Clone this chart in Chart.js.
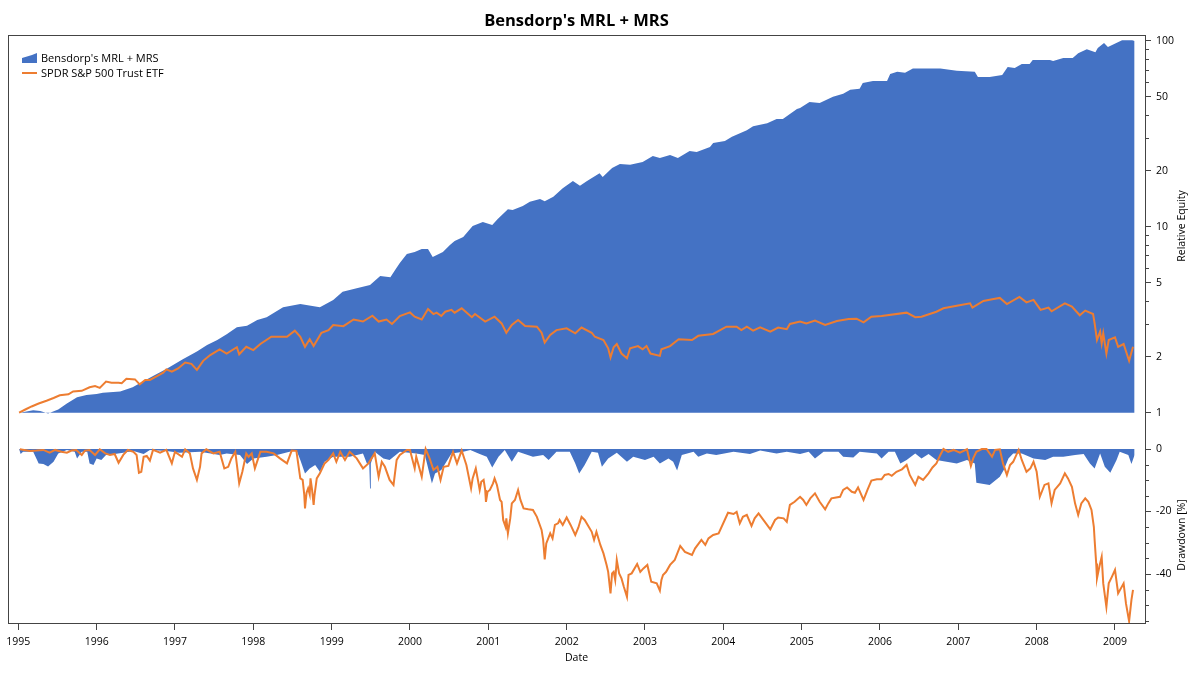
<!DOCTYPE html>
<html>
<head>
<meta charset="utf-8">
<title>Bensdorp's MRL + MRS</title>
<script src="https://cdn.jsdelivr.net/npm/chart.js@4"></script>
<style>
  html, body { margin: 0; padding: 0; background: #fff; }
  canvas { display: block; }
</style>
</head>
<body>
<canvas id="myChart" width="1200" height="675"></canvas>
<script>
// time values are years since startYear
var startYear = 1995;
var yearTicks = [1995,1996,1997,1998,1999,2000,2001,2002,2003,2004,2005,2006,2007,2008,2009];
var equityTicks = [1,2,5,10,20,50,100];
var equityMinorTicks = [3,4,6,7,8,9,30,40,60,70,80,90];
var drawdownTicks = [0,-20,-40];
var drawdownMinorTicks = [-5,-10,-15,-25,-30,-35,-45,-50,-55];

var strategyEquityT = [
  0.02,0.19,0.28,0.38,0.51,0.62,0.75,0.87,1.00,1.08,
  1.30,1.46,1.55,1.72,1.90,2.10,2.28,2.41,2.54,2.66,
  2.79,2.92,3.05,3.17,3.38,3.60,3.85,4.02,4.14,4.32,
  4.49,4.62,4.75,4.81,4.87,4.96,5.06,5.15,5.23,5.29,
  5.42,5.51,5.57,5.68,5.80,5.93,6.05,6.12,6.25,6.31,
  6.44,6.53,6.66,6.72,6.83,6.95,7.08,7.17,7.26,7.42,
  7.46,7.58,7.68,7.81,7.97,8.10,8.19,8.32,8.42,8.57,
  8.66,8.83,8.87,9.02,9.11,9.30,9.38,9.56,9.68,9.76,
  9.94,9.98,10.10,10.23,10.40,10.53,10.62,10.74,10.78,10.91,
  11.09,11.13,11.22,11.32,11.42,11.64,11.77,11.98,12.21,12.25,
  12.40,12.56,12.63,12.72,12.81,12.91,12.95,13.17,13.21,13.34,
  13.46,13.53,13.64,13.75,13.78,13.86,13.91,14.09,14.22,14.25
];
var strategyEquity = [
  1.00,1.03,1.02,0.99,1.04,1.12,1.21,1.245,1.26,1.28,
  1.30,1.37,1.44,1.575,1.73,1.94,2.13,2.31,2.46,2.64,
  2.88,2.93,3.15,3.26,3.69,3.84,3.69,4.04,4.47,4.66,
  4.86,5.43,5.34,5.85,6.38,7.13,7.31,7.59,7.59,6.87,
  7.31,7.97,8.37,8.81,10.1,10.6,10.2,11.0,12.4,12.3,
  12.9,13.6,14.1,13.7,14.5,16.1,17.6,16.6,17.6,19.4,
  18.5,20.7,21.7,21.5,22.3,24.0,23.4,24.3,23.4,25.5,
  25.2,26.8,28.2,28.9,30.4,33.0,34.7,36.0,37.9,37.9,
  42.9,43.4,46.8,46.2,49.9,51.8,54.4,55.1,59.3,60.8,
  60.8,66.3,68.0,67.2,70.8,70.8,70.8,68.9,68.0,63.8,
  63.8,65.3,72.2,71.3,74.9,74.9,78.7,78.7,77.7,80.7,
  80.7,85.7,90.0,86.8,91.3,97.2,92.4,100.6,100.6,99.5
];

var spyEquityT = [
  0.01,0.09,0.17,0.26,0.36,0.45,0.53,0.64,0.70,0.81,
  0.91,0.98,1.04,1.12,1.19,1.28,1.32,1.38,1.49,1.55,
  1.62,1.68,1.77,1.85,1.89,1.96,2.04,2.13,2.21,2.28,
  2.36,2.45,2.57,2.66,2.79,2.82,2.91,3.00,3.09,3.23,
  3.43,3.53,3.60,3.66,3.72,3.77,3.87,3.96,4.02,4.15,
  4.28,4.40,4.52,4.60,4.70,4.77,4.87,5.00,5.06,5.15,
  5.23,5.30,5.34,5.40,5.45,5.53,5.57,5.66,5.79,5.83,
  5.96,6.08,6.17,6.23,6.30,6.38,6.47,6.62,6.68,6.72,
  6.79,6.87,7.00,7.11,7.19,7.32,7.36,7.47,7.53,7.56,
  7.60,7.64,7.70,7.77,7.81,7.91,7.97,8.02,8.07,8.19,
  8.21,8.32,8.43,8.60,8.68,8.87,9.04,9.17,9.23,9.30,
  9.38,9.47,9.60,9.70,9.81,9.85,9.98,10.06,10.17,10.30,
  10.45,10.60,10.70,10.79,10.89,11.02,11.34,11.45,11.53,11.72,
  11.81,11.98,12.15,12.18,12.32,12.45,12.53,12.62,12.78,12.87,
  12.96,13.05,13.15,13.19,13.36,13.45,13.55,13.62,13.72,13.74,
  13.77,13.81,13.83,13.85,13.89,13.92,14.00,14.04,14.11,14.18,
  14.23
];
var spyEquity = [
  1.00,1.04,1.08,1.12,1.16,1.20,1.24,1.255,1.30,1.31,
  1.37,1.39,1.36,1.47,1.45,1.45,1.44,1.52,1.51,1.42,
  1.50,1.50,1.57,1.64,1.71,1.66,1.73,1.86,1.83,1.70,
  1.90,2.04,2.19,2.08,2.25,2.06,2.26,2.17,2.34,2.56,
  2.56,2.76,2.56,2.26,2.48,2.28,2.69,2.78,2.96,2.92,
  3.17,3.09,3.32,3.09,3.17,3.00,3.31,3.46,3.28,3.17,
  3.61,3.39,3.45,3.31,3.49,3.57,3.45,3.64,3.26,3.39,
  3.09,3.28,3.02,2.69,2.96,3.15,2.92,2.90,2.69,2.38,
  2.62,2.78,2.84,2.67,2.87,2.69,2.56,2.46,2.22,1.98,
  2.25,2.34,2.08,1.96,2.22,2.28,2.19,2.28,2.08,2.02,
  2.19,2.28,2.48,2.46,2.59,2.65,2.90,2.90,2.78,2.90,
  2.76,2.88,2.73,2.87,2.81,3.00,3.09,3.02,3.13,2.96,
  3.11,3.19,3.20,3.06,3.28,3.31,3.45,3.26,3.28,3.49,
  3.64,3.76,3.87,3.67,3.99,4.09,4.14,3.84,4.19,3.92,
  4.04,3.57,3.67,3.51,3.87,3.72,3.34,3.54,3.39,3.02,
  2.46,2.73,2.36,2.67,2.08,2.46,2.54,2.26,2.34,1.90,
  2.26
];

var strategyDrawdownT = [
  0.01,0.03,0.06,0.19,0.26,0.32,0.38,0.45,0.51,0.62,
  0.72,0.75,0.81,0.88,0.91,0.96,1.00,1.06,1.12,1.23,
  1.34,1.47,1.60,1.68,1.89,2.06,2.32,2.57,2.66,2.83,
  2.92,3.00,3.17,3.30,3.55,3.60,3.66,3.72,3.79,3.85,
  3.91,4.02,4.23,4.40,4.45,4.48,4.49,4.50,4.55,4.66,
  4.74,4.87,5.08,5.19,5.28,5.32,5.40,5.53,5.68,5.77,
  5.89,5.98,6.05,6.13,6.21,6.30,6.38,6.57,6.70,6.77,
  6.87,7.04,7.11,7.16,7.23,7.32,7.40,7.45,7.53,7.64,
  7.77,7.85,8.00,8.11,8.19,8.30,8.36,8.41,8.47,8.62,
  8.68,8.79,8.91,9.13,9.34,9.47,9.68,9.81,9.98,10.09,
  10.17,10.28,10.47,10.53,10.66,10.74,10.96,11.02,11.11,11.19,
  11.26,11.34,11.45,11.53,11.62,11.72,11.85,11.98,12.11,12.21,
  12.23,12.40,12.53,12.58,12.64,12.70,12.81,12.96,13.11,13.21,
  13.34,13.49,13.60,13.68,13.74,13.81,13.87,13.94,14.02,14.06,
  14.17,14.21,14.25
];
var strategyDrawdown = [
  0,-1.6,-0.9,-0.9,-4.6,-4.8,-5.6,-4.1,-1.4,-0.3,
  -0.9,-3.0,-0.9,-0.9,-4.6,-5.1,-3.0,-3.5,-1.9,-1.6,
  -1.2,-0.6,-1.6,-0.3,-0.6,-1.2,-0.9,-1.9,-1.4,-1.9,
  -4.8,-3.0,-2.5,-1.9,-0.3,-3.5,-7.8,-6.2,-5.1,-7.3,
  -4.1,-2.5,-2.5,-1.4,-4.6,-4.6,-12.6,-4.6,-0.9,-3.0,
  -3.5,-0.9,-1.4,-1.9,-11.0,-7.8,-6.7,-1.4,-0.9,-0.3,
  -1.6,-2.5,-5.9,-2.5,-0.3,-4.1,-0.9,-2.5,-1.9,-3.5,
  -0.9,-0.9,-4.6,-7.8,-5.1,-0.9,-1.2,-5.7,-3.0,-1.2,
  -4.1,-2.5,-3.5,-2.5,-4.6,-3.0,-4.1,-6.9,-1.9,-0.9,
  -2.5,-1.4,-1.9,-0.9,-1.6,-0.5,-1.4,-0.9,-1.6,-0.9,
  -3.0,-0.9,-0.9,-2.5,-2.7,-0.9,-1.4,-3.0,-0.9,-0.9,
  -4.6,-3.5,-1.4,-3.0,-1.6,-3.5,-4.1,-4.6,-3.5,-4.6,
  -10.8,-11.5,-8.9,-6.7,-3.0,-1.4,-1.4,-3.0,-3.5,-2.5,
  -2.5,-1.9,-1.6,-4.6,-6.2,-1.4,-5.7,-7.6,-3.5,-0.9,
  -1.9,-4.8,-1.9
];

var spyDrawdownT = [
  0.02,0.15,0.23,0.32,0.40,0.47,0.55,0.62,0.68,0.74,
  0.81,0.85,0.91,0.98,1.04,1.11,1.17,1.23,1.28,1.34,
  1.40,1.47,1.51,1.54,1.57,1.60,1.64,1.68,1.72,1.81,
  1.89,1.96,2.00,2.09,2.13,2.19,2.23,2.28,2.32,2.34,
  2.40,2.49,2.57,2.63,2.68,2.72,2.77,2.82,2.86,2.91,
  2.94,2.98,3.02,3.09,3.17,3.26,3.34,3.43,3.49,3.55,
  3.60,3.63,3.65,3.66,3.68,3.70,3.72,3.73,3.75,3.77,3.78,3.81,3.85,3.91,3.96,
  4.02,4.06,4.11,4.17,4.23,4.32,4.40,4.47,4.55,4.60,
  4.64,4.68,4.74,4.79,4.83,4.87,4.96,5.00,5.06,5.08,
  5.15,5.20,5.25,5.30,5.35,5.39,5.43,5.49,5.55,5.60,
  5.66,5.72,5.78,5.80,5.84,5.86,5.89,5.91,5.94,5.96,
  5.97,5.99,6.02,6.06,6.08,6.11,6.15,6.17,6.19,6.22,
  6.23,6.25,6.28,6.30,6.34,6.38,6.41,6.45,6.51,6.57,
  6.62,6.68,6.70,6.72,6.74,6.79,6.82,6.85,6.89,6.91,
  6.95,7.00,7.05,7.11,7.15,7.19,7.23,7.32,7.35,7.38,
  7.43,7.47,7.51,7.53,7.56,7.58,7.60,7.62,7.64,7.67,
  7.70,7.73,7.77,7.79,7.83,7.90,7.94,7.98,8.03,8.08,
  8.15,8.19,8.21,8.23,8.27,8.32,8.38,8.45,8.51,8.60,
  8.64,8.72,8.77,8.81,8.87,8.94,9.06,9.13,9.17,9.21,
  9.25,9.30,9.36,9.40,9.45,9.53,9.60,9.66,9.70,9.77,
  9.81,9.85,9.91,9.98,10.02,10.06,10.11,10.17,10.23,10.30,
  10.34,10.38,10.44,10.49,10.53,10.58,10.64,10.68,10.72,10.79,
  10.84,10.89,10.96,11.02,11.06,11.11,11.15,11.21,11.28,11.34,
  11.38,11.45,11.49,11.55,11.62,11.67,11.72,11.77,11.81,11.87,
  11.94,12.02,12.11,12.16,12.19,12.23,12.30,12.36,12.43,12.47,
  12.53,12.57,12.62,12.66,12.70,12.77,12.81,12.87,12.92,12.96,
  13.00,13.04,13.10,13.15,13.19,13.23,13.30,13.36,13.40,13.45,
  13.49,13.53,13.57,13.62,13.66,13.70,13.73,13.74,13.76,13.77,
  13.80,13.83,13.85,13.89,13.92,13.96,14.00,14.04,14.11,14.14,
  14.18,14.21,14.23
];
var spyDrawdown = [
  -0.1,-0.6,-0.5,-0.3,-1.2,-0.3,-0.9,-1.2,-0.5,-0.3,
  -1.9,-0.5,-0.3,-1.9,-0.1,-1.4,-1.9,-1.6,-4.4,-1.9,
  -0.3,-0.9,-1.9,-7.6,-7.3,-2.5,-2.2,-3.7,-0.3,-1.2,
  -0.3,-4.6,-0.9,-2.5,-0.1,-1.4,-6.2,-9.9,-5.7,-1.4,
  -0.1,-1.4,-0.9,-6.2,-5.7,-3.0,-0.9,-11.0,-7.3,-1.4,
  -2.5,-1.4,-6.2,-0.9,-0.9,-1.4,-3.0,-4.6,-0.5,-0.6,
  -9.4,-9.9,-14.5,-19.0,-14.0,-12.6,-14.5,-9.4,-13.0,-17.9,-15.0,-9.4,-7.8,-4.6,-3.5,
  -1.4,-4.1,-0.9,-3.5,-0.9,-3.0,-6.2,-4.6,-1.4,-8.9,
  -4.1,-5.7,-9.9,-11.5,-3.5,-1.9,-0.3,-0.3,-6.2,-2.5,
  -8.9,0,-3.0,-6.7,-5.7,-9.9,-5.7,-5.4,-0.9,-4.6,
  -0.5,-5.1,-12.6,-9.4,-6.2,-8.9,-13.1,-10.5,-9.9,-13.1,
  -16.9,-13.7,-13.1,-11.0,-9.4,-11.5,-16.3,-16.9,-22.7,-24.9,
  -22.2,-27.0,-22.2,-17.4,-16.3,-13.1,-16.3,-19.0,-19.3,-19.5,
  -21.7,-25.9,-29.1,-35.3,-30.2,-27.0,-28.6,-24.3,-23.8,-22.7,
  -24.3,-21.9,-24.3,-27.5,-25.1,-21.7,-22.7,-26.5,-29.1,-26.5,
  -30.7,-33.4,-37.1,-39.3,-46.2,-39.8,-39.3,-41.9,-35.5,-39.8,
  -41.4,-44.1,-47.3,-40.3,-39.8,-36.8,-39.3,-38.2,-37.1,-42.5,
  -43.0,-45.3,-41.9,-40.3,-39.3,-37.1,-35.5,-31.0,-32.9,-33.9,
  -31.8,-29.1,-30.7,-28.6,-27.5,-27.0,-20.4,-20.8,-20.1,-23.8,
  -21.7,-21.1,-24.6,-22.2,-20.6,-23.3,-25.7,-22.7,-21.9,-22.2,
  -23.3,-17.9,-16.9,-15.3,-16.3,-17.9,-15.8,-14.2,-16.9,-19.3,
  -17.4,-15.8,-15.5,-15.3,-13.1,-12.3,-13.7,-14.0,-12.3,-16.3,
  -13.1,-10.1,-9.7,-9.7,-8.3,-8.0,-8.6,-7.3,-6.5,-5.1,
  -8.3,-11.5,-8.9,-9.9,-7.8,-5.9,-4.6,-1.9,0,-0.9,
  -0.3,-1.2,-0.1,-5.4,-3.0,-0.9,0,0,-2.5,-0.3,
  -0.1,-4.6,-8.3,-5.1,-4.1,-0.3,-3.5,-7.3,-6.2,-4.1,
  -7.3,-15.3,-11.5,-11.0,-17.4,-13.1,-11.0,-7.8,-9.4,-12.1,
  -17.4,-21.1,-17.4,-15.8,-16.9,-19.5,-24.9,-29.1,-36.6,-41.4,
  -37.7,-34.5,-43.0,-50.5,-43.0,-40.9,-38.7,-46.2,-43.0,-49.4,
  -55.1,-48.3,-45.1
];

var seriesNames = ["Bensdorp's MRL + MRS", "SPDR S&P 500 Trust ETF"];
var blue = '#4472C4';
var orange = '#ED7D31';
var axisGray = '#444444';
var fontName = '"Open Sans", "Noto Sans", sans-serif';

function pairs(ts, vs) {
  return ts.map(function (t, i) { return { x: startYear + t, y: vs[i] }; });
}
function setTicks(list) {
  return function (scale) {
    scale.ticks = list.map(function (v) { return { value: v }; });
  };
}

// minor ticks, frame, legend and left-reading axis titles
var decorPlugin = {
  id: 'decor',
  afterDraw: function (chart) {
    var c = chart.ctx, a = chart.chartArea;
    var eq = chart.scales.yEquity, dd = chart.scales.yDrawdown;
    c.save();
    c.strokeStyle = axisGray;
    c.lineWidth = 1;
    c.strokeRect(a.left + 0.5, a.top + 0.5, a.right - a.left, a.bottom - a.top);
    c.beginPath();
    equityMinorTicks.forEach(function (v) {
      var y = Math.round(eq.getPixelForValue(v)) + 0.5;
      c.moveTo(a.right, y); c.lineTo(a.right + 4, y);
    });
    drawdownMinorTicks.forEach(function (v) {
      var y = Math.round(dd.getPixelForValue(v)) + 0.5;
      c.moveTo(a.right, y); c.lineTo(a.right + 4, y);
    });
    c.stroke();

    // legend
    c.fillStyle = blue;
    c.beginPath();
    c.moveTo(22, 63); c.lineTo(22, 58); c.lineTo(32, 55); c.lineTo(37, 53); c.lineTo(37, 63);
    c.closePath();
    c.fill();
    c.strokeStyle = orange;
    c.lineWidth = 2;
    c.beginPath();
    c.moveTo(22, 73); c.lineTo(37, 73);
    c.stroke();
    c.fillStyle = '#000';
    c.font = '11px ' + fontName;
    c.textBaseline = 'middle';
    c.textAlign = 'left';
    c.fillText(seriesNames[0], 41, 59);
    c.fillText(seriesNames[1], 41, 73.5);

    // axis titles
    c.font = '10.5px ' + fontName;
    c.textAlign = 'center';
    c.translate(1182, 0);
    c.rotate(-Math.PI / 2);
    c.fillText('Relative Equity', -226, 0);
    c.fillText('Drawdown [%]', -535, 0);
    c.restore();
  }
};

var tickFont = { family: fontName, size: 10.5 };

var ctx = document.getElementById('myChart').getContext('2d');
var myChart = new Chart(ctx, {
  type: 'line',
  data: {
    datasets: [
      { label: seriesNames[1], data: pairs(spyEquityT, spyEquity), yAxisID: 'yEquity',
        borderColor: orange, borderWidth: 2, pointRadius: 0, fill: false, order: 0 },
      { label: seriesNames[0], data: pairs(strategyEquityT, strategyEquity), yAxisID: 'yEquity',
        borderWidth: 0, backgroundColor: blue, pointRadius: 0, fill: { value: 1 }, order: 1 },
      { label: seriesNames[1], data: pairs(spyDrawdownT, spyDrawdown), yAxisID: 'yDrawdown',
        borderColor: orange, borderWidth: 2, pointRadius: 0, fill: false, order: 0 },
      { label: seriesNames[0], data: pairs(strategyDrawdownT, strategyDrawdown), yAxisID: 'yDrawdown',
        borderWidth: 0, backgroundColor: blue, pointRadius: 0, fill: { value: 0 }, order: 1 }
    ]
  },
  plugins: [decorPlugin],
  options: {
    responsive: false,
    animation: false,
    devicePixelRatio: 1,
    layout: { padding: { left: 8, right: 0, top: 0, bottom: 0 } },
    plugins: {
      legend: { display: false },
      tooltip: { enabled: false },
      title: {
        display: true,
        text: seriesNames[0],
        fullSize: false,
        color: '#000',
        font: { family: fontName, size: 16.5, weight: 'bold' },
        padding: { top: 11, bottom: 4.2 }
      }
    },
    scales: {
      x: {
        type: 'linear',
        min: 1994.8685,
        max: 2009.383,
        afterBuildTicks: setTicks(yearTicks),
        afterFit: function (s) { s.height = 52; },
        grid: { drawOnChartArea: false, tickLength: 7, tickColor: axisGray },
        border: { color: axisGray },
        ticks: {
          color: '#000', font: tickFont, padding: 6, maxRotation: 0, autoSkip: false,
          callback: function (v) { return String(v); }
        },
        title: {
          display: true, text: 'Date', color: '#000', font: tickFont,
          padding: { top: 0, bottom: 11 }
        }
      },
      yEquity: {
        axis: 'y',
        type: 'logarithmic',
        position: 'right',
        stack: 'panels',
        stackWeight: 395,
        min: 0.807,
        max: 107.3,
        afterBuildTicks: setTicks(equityTicks),
        afterFit: function (s) { s.width = 55; },
        grid: { drawOnChartArea: false, tickLength: 6, tickColor: axisGray },
        border: { color: axisGray },
        ticks: {
          color: '#000', font: tickFont, padding: 5, autoSkip: false,
          callback: function (v) { return String(v); }
        }
      },
      yDrawdown: {
        axis: 'y',
        type: 'linear',
        position: 'right',
        stack: 'panels',
        stackWeight: 193,
        min: -55.68,
        max: 6.08,
        afterBuildTicks: setTicks(drawdownTicks),
        afterFit: function (s) { s.width = 55; },
        grid: { drawOnChartArea: false, tickLength: 6, tickColor: axisGray },
        border: { color: axisGray },
        ticks: {
          color: '#000', font: tickFont, padding: 5, autoSkip: false,
          callback: function (v) { return String(v); }
        }
      }
    }
  }
});
</script>
</body>
</html>
